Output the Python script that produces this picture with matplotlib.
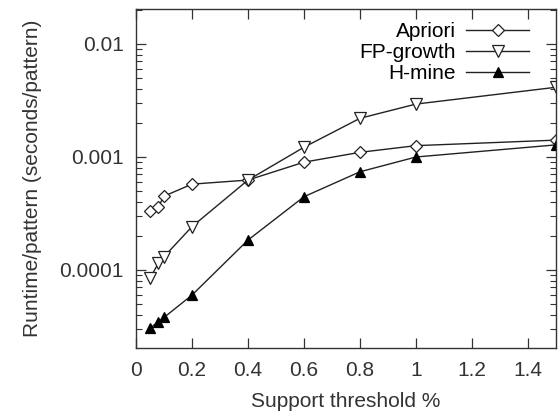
import matplotlib
matplotlib.use("Agg")
import matplotlib.pyplot as plt
from matplotlib.ticker import FixedLocator, LogLocator, NullFormatter, FixedFormatter

plt.rcParams['font.family'] = ['Liberation Sans', 'DejaVu Sans']

support = [0.05, 0.08, 0.1, 0.2, 0.4, 0.6, 0.8, 1.0, 1.5]
apriori = [3.35e-4, 3.63e-4, 4.5e-4, 5.75e-4, 6.25e-4, 9.0e-4, 1.10e-3, 1.26e-3, 1.41e-3]
fpgrowth = [8.45e-5, 1.15e-4, 1.31e-4, 2.42e-4, 6.25e-4, 1.22e-3, 2.2e-3, 2.94e-3, 4.14e-3]
hmine = [3.05e-5, 3.5e-5, 3.8e-5, 6.0e-5, 1.84e-4, 4.45e-4, 7.4e-4, 1.0e-3, 1.28e-3]

xticks = [0, 0.2, 0.4, 0.6, 0.8, 1, 1.2, 1.4]
xticklabels = ['0', '0.2', '0.4', '0.6', '0.8', '1', '1.2', '1.4']
yticks = [0.0001, 0.001, 0.01]
yticklabels = ['0.0001', '0.001', '0.01']

fs = 15
fig = plt.figure(figsize=(5.58, 4.11), dpi=100)
ax = fig.add_axes([136/558, 1-348/411, 420/558, 339/411])

lc = '#222222'
ax.plot(support, apriori, color=lc, lw=1.0, marker='D', ms=6.5, mfc='white', mec=lc, mew=0.9, label='Apriori')
ax.plot(support, fpgrowth, color=lc, lw=1.0, marker='v', ms=8, mfc='white', mec=lc, mew=0.9, label='FP-growth')
ax.plot(support, hmine, color=lc, lw=1.0, marker='^', ms=7.5, mfc='black', mec='black', mew=0.9, label='H-mine')

ax.set_yscale('log')
ax.set_xlim(0, 1.5)
ax.set_ylim(2.04e-5, 2.04e-2)
ax.xaxis.set_major_locator(FixedLocator(xticks))
ax.xaxis.set_major_formatter(FixedFormatter(xticklabels))
ax.yaxis.set_major_locator(FixedLocator(yticks))
ax.yaxis.set_major_formatter(FixedFormatter(yticklabels))
ax.yaxis.set_minor_locator(LogLocator(base=10, subs=range(2, 10)))
ax.yaxis.set_minor_formatter(NullFormatter())

ax.tick_params(which='both', direction='in', top=True, right=True, labelsize=fs, colors='#333333', labelcolor='#333333')
ax.tick_params(which='major', length=7, width=0.9, pad=9)
ax.tick_params(which='minor', length=4, width=0.8)
for s in ax.spines.values():
    s.set_color('#333333')
    s.set_linewidth(1.0)

ax.set_xlabel('Support threshold %', fontsize=fs, color='#333333', labelpad=9)
ax.set_ylabel('Runtime/pattern (seconds/pattern)', fontsize=fs, color='#333333', labelpad=12)

ax.legend(loc='upper right', markerfirst=False, frameon=False, fontsize=fs,
          handlelength=3.0, handletextpad=0.5, labelspacing=0.1,
          bbox_to_anchor=(1 - 21/420, 1.0 - 7/339), borderaxespad=0.1, borderpad=0.2)

fig.savefig('out.png', dpi=100)
